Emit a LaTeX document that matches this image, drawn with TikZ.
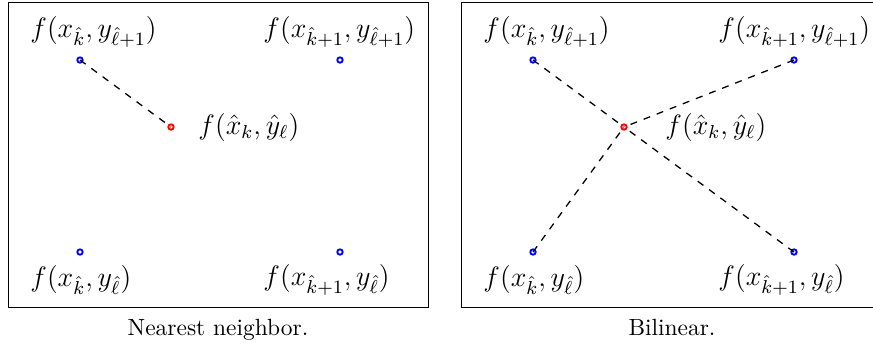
\documentclass[tikz,border=0pt]{standalone}
\usepackage{amsmath}
\begin{document}
\begin{tikzpicture}[
  x=0.015cm, y=-0.015cm,
  grid/.style={circle, draw=blue, line width=0.8pt, inner sep=0pt, minimum size=2.3pt},
  target/.style={circle, draw=red, line width=0.8pt, inner sep=0pt, minimum size=2.3pt},
  lbl/.style={anchor=west, inner sep=0pt, font=\large},
  caption/.style={anchor=base},
  frame/.style={draw, line width=0.4pt},
  link/.style={dashed, line width=0.55pt}
]
\useasboundingbox (0,0) rectangle (873,343);
% nearest neighbor
\draw[frame] (8,2.5) rectangle (428,307);
\node[grid] (a11) at (80,60)  {};
\node[grid] (a21) at (340,60) {};
\node[grid] (a10) at (80,252) {};
\node[grid] (a20) at (340,252) {};
\node[target] (ar) at (171,127) {};
\node[lbl] at (30,32)   {$f(x_{\hat k}, y_{\hat\ell+1})$};
\node[lbl] at (263,32)  {$f(x_{\hat k+1}, y_{\hat\ell+1})$};
\node[lbl] at (30,280)  {$f(x_{\hat k}, y_{\hat\ell})$};
\node[lbl] at (263,280) {$f(x_{\hat k+1}, y_{\hat\ell})$};
\node[lbl] at (198,127) {$f(\hat x_k, \hat y_\ell)$};
\draw[link] (a11.center) -- (ar.center);
\node[caption] at (218,335) {Nearest neighbor.};
% bilinear
\draw[frame] (461.5,2.5) rectangle (883,307);
\node[grid] (b11) at (533,60)  {};
\node[grid] (b21) at (794,60)  {};
\node[grid] (b10) at (533,252) {};
\node[grid] (b20) at (794,252) {};
\node[target] (br) at (624,127) {};
\node[lbl] at (483,32)  {$f(x_{\hat k}, y_{\hat\ell+1})$};
\node[lbl] at (718,32)  {$f(x_{\hat k+1}, y_{\hat\ell+1})$};
\node[lbl] at (483,280) {$f(x_{\hat k}, y_{\hat\ell})$};
\node[lbl] at (718,280) {$f(x_{\hat k+1}, y_{\hat\ell})$};
\node[lbl] at (665,127) {$f(\hat x_k, \hat y_\ell)$};
\foreach \c in {b11,b21,b10,b20}
  \draw[link] (\c.center) -- (br.center);
\node[caption] at (672,335) {Bilinear.};
\end{tikzpicture}
\end{document}
